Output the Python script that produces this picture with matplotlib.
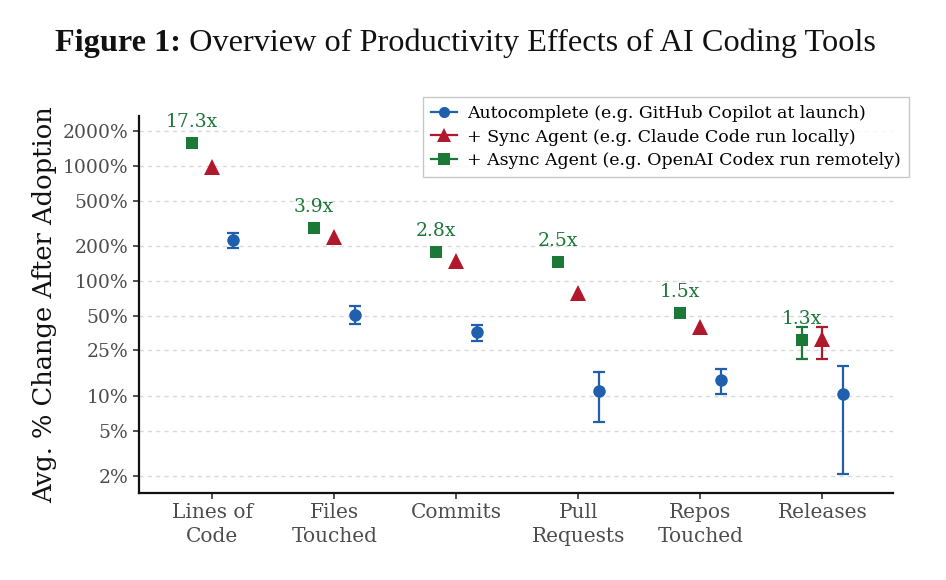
import numpy as np
import matplotlib
matplotlib.use("Agg")
import matplotlib.pyplot as plt
from matplotlib.lines import Line2D
from matplotlib.ticker import FixedLocator, NullLocator

# values (percent change, log axis)
categories = ["Lines of\nCode", "Files\nTouched", "Commits",
              "Pull\nRequests", "Repos\nTouched", "Releases"]

autocomplete = [227, 50.6, 35.8, 11.0, 13.7, 10.3]
auto_lo = [192, 42, 30.1, 5.9, 10.3, 2.08]
auto_hi = [263, 60, 41.7, 16.3, 17.2, 18.3]

sync_agent = [979, 241, 149, 78, 39.5, 31]
sync_lo = [np.nan, np.nan, np.nan, np.nan, np.nan, 21]
sync_hi = [np.nan, np.nan, np.nan, np.nan, np.nan, 40]

async_agent = [1585, 290, 178, 147, 52.7, 30.7]
async_lo = [np.nan, np.nan, np.nan, np.nan, np.nan, 21]
async_hi = [np.nan, np.nan, np.nan, np.nan, np.nan, 40]

multipliers = ["17.3x", "3.9x", "2.8x", "2.5x", "1.5x", "1.3x"]

yticks = [2, 5, 10, 25, 50, 100, 200, 500, 1000, 2000]

blue = "#1f5fad"
red = "#b2182b"
green = "#1b7837"
grey = "#4d4d4d"

plt.rcParams['font.family'] = ['DejaVu Serif']

fig = plt.figure(figsize=(9.46, 5.80), dpi=100)
ax = fig.add_axes([0.147, 0.150, 0.797, 0.650])

x = np.arange(len(categories))
dx = 0.168


def draw_series(ax, xs, vals, lo, hi, color, marker, ms):
    vals = np.array(vals, dtype=float)
    lo = np.array(lo, dtype=float)
    hi = np.array(hi, dtype=float)
    has = ~np.isnan(lo)
    if has.any():
        ax.errorbar(xs[has], vals[has],
                    yerr=[vals[has] - lo[has], hi[has] - vals[has]],
                    fmt='none', ecolor=color, elinewidth=1.6,
                    capsize=4.5, capthick=1.6, zorder=3)
    ax.plot(xs, vals, linestyle='none', marker=marker, ms=ms,
            color=color, markeredgewidth=0, zorder=4)


draw_series(ax, x + dx, autocomplete, auto_lo, auto_hi, blue, 'o', 9)
draw_series(ax, x, sync_agent, sync_lo, sync_hi, red, '^', 11)
draw_series(ax, x - dx, async_agent, async_lo, async_hi, green, 's', 9)

for i, lab in enumerate(multipliers):
    ax.annotate(lab, xy=(x[i] - dx, async_agent[i]), xytext=(0, 15),
                textcoords='offset points', ha='center', va='center',
                color=green, fontsize=13.5)

ax.set_yscale('log')
ax.set_ylim(1.43, 2723)
ax.set_xlim(-0.6, 5.58)
ax.yaxis.set_major_locator(FixedLocator(yticks))
ax.yaxis.set_minor_locator(NullLocator())
ax.set_yticklabels([f"{t}%" for t in yticks])
ax.set_xticks(x)
ax.set_xticklabels(categories, linespacing=1.35)

ax.tick_params(axis='y', colors=grey, labelsize=13.5, length=4,
               width=1.2, pad=4)
ax.tick_params(axis='x', colors=grey, labelsize=14.5, length=4,
               width=1.2, pad=3)
ax.tick_params(axis='both', color='#333333')

for t in yticks:
    ax.axhline(t, color='#d9d9d9', linestyle=(0, (3, 3)), linewidth=1,
               zorder=1)

for side in ['top', 'right']:
    ax.spines[side].set_visible(False)
for side in ['left', 'bottom']:
    ax.spines[side].set_linewidth(1.6)
    ax.spines[side].set_color('#111111')

ax.set_ylabel("Avg. % Change After Adoption", fontsize=18.5, labelpad=4,
              color='#111111')

handles = [
    Line2D([0], [0], color=blue, marker='o', ms=8, lw=1.6, mew=0),
    Line2D([0], [0], color=red, marker='^', ms=10, lw=1.6, mew=0),
    Line2D([0], [0], color=green, marker='s', ms=8, lw=1.6, mew=0),
]
labels = ["Autocomplete (e.g. GitHub Copilot at launch)",
          "+ Sync Agent (e.g. Claude Code run locally)",
          "+ Async Agent (e.g. OpenAI Codex run remotely)"]
leg = ax.legend(handles, labels, loc='upper right',
                bbox_to_anchor=(1.021, 1.050), borderaxespad=0,
                fontsize=12.5, frameon=True,
                fancybox=False, edgecolor='#bbbbbb', handlelength=1.5,
                handletextpad=0.6, labelspacing=0.38, borderpad=0.45)
leg.get_frame().set_linewidth(1.0)

# title: bold "Figure 1:" followed by regular text
t1 = fig.text(0.058, 0.912, "Figure 1:", fontsize=23.2, fontweight='bold',
              family='Liberation Serif', va='baseline', color='#111111')
ax.annotate(" Overview of Productivity Effects of AI Coding Tools",
            xy=(1, 0), xycoords=t1, va='bottom', ha='left',
            fontsize=23.2, family='Liberation Serif', color='#111111',
            annotation_clip=False)

fig.savefig("out.png", dpi=100)
